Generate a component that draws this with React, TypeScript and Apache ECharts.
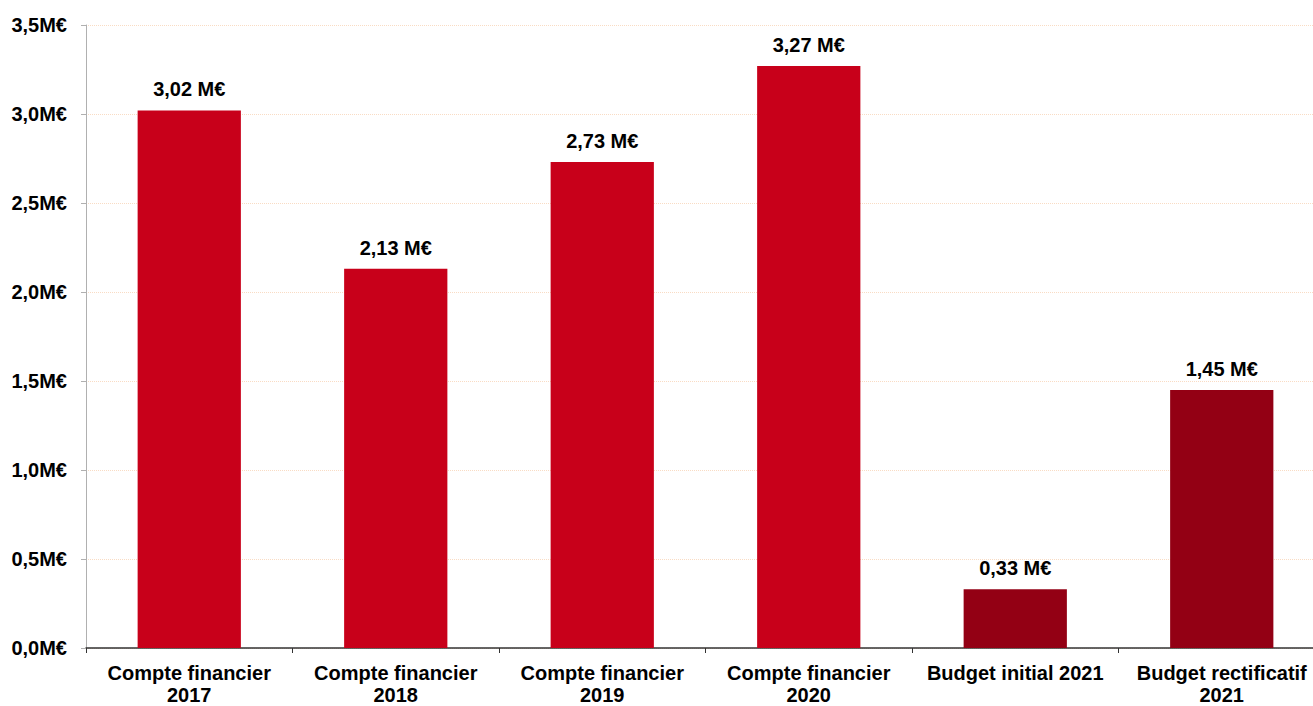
import React, { useEffect, useRef } from "react";
import * as echarts from "echarts";

const categories = [
  "Compte financier\n2017",
  "Compte financier\n2018",
  "Compte financier\n2019",
  "Compte financier\n2020",
  "Budget initial 2021",
  "Budget rectificatif\n2021",
];
const values = [3.02, 2.13, 2.73, 3.27, 0.33, 1.45];
const barColors = ["#C8001A", "#C8001A", "#C8001A", "#C8001A", "#930014", "#930014"];

const fmt = (v: number, d: number) => v.toFixed(d).replace(".", ",");

export default function App() {
  const ref = useRef<HTMLDivElement>(null);
  useEffect(() => {
    if (!ref.current) return;
    const chart = echarts.init(ref.current, null, { renderer: "svg" });
    const font = "'Liberation Sans', Arial, sans-serif";
    chart.setOption({
      animation: false,
      grid: { left: 86, right: 0, top: 25, bottom: 57, containLabel: false },
      xAxis: {
        type: "category",
        data: categories,
        axisLine: { show: true, lineStyle: { color: "#333333", width: 1.5 } },
        axisTick: { show: true, alignWithLabel: false, length: 5, lineStyle: { color: "#333333" } },
        axisLabel: {
          interval: 0,
          margin: 14,
          color: "#000",
          fontFamily: font,
          fontWeight: "bold",
          fontSize: 20,
          lineHeight: 22,
        },
        splitLine: { show: false },
      },
      yAxis: {
        type: "value",
        min: 0,
        max: 3.5,
        interval: 0.5,
        axisLine: { show: true, lineStyle: { color: "#b0b0b0", width: 1 } },
        axisTick: { show: true, length: 5, lineStyle: { color: "#b0b0b0" } },
        axisLabel: {
          margin: 19,
          color: "#000",
          fontFamily: font,
          fontWeight: "bold",
          fontSize: 20,
          formatter: (v: number) => fmt(v, 1) + "M€",
        },
        splitLine: { show: true, lineStyle: { color: "#f9dcc4", type: "dotted", width: 1 } },
      },
      series: [
        {
          type: "bar",
          barWidth: "50%",
          data: values.map((v, i) => ({ value: v, itemStyle: { color: barColors[i] } })),
          label: {
            show: true,
            position: "top",
            distance: 11,
            color: "#000",
            fontFamily: font,
            fontWeight: "bold",
            fontSize: 20,
            formatter: (p: any) => fmt(p.value, 2) + " M€",
          },
        },
      ],
    });
    return () => chart.dispose();
  }, []);
  return (
    <div style={{ position: "absolute", left: 0, top: 0, width: 1313, height: 706, overflow: "hidden", background: "#fff" }}>
      <div ref={ref} style={{ width: 1325, height: 706 }} />
    </div>
  );
}
